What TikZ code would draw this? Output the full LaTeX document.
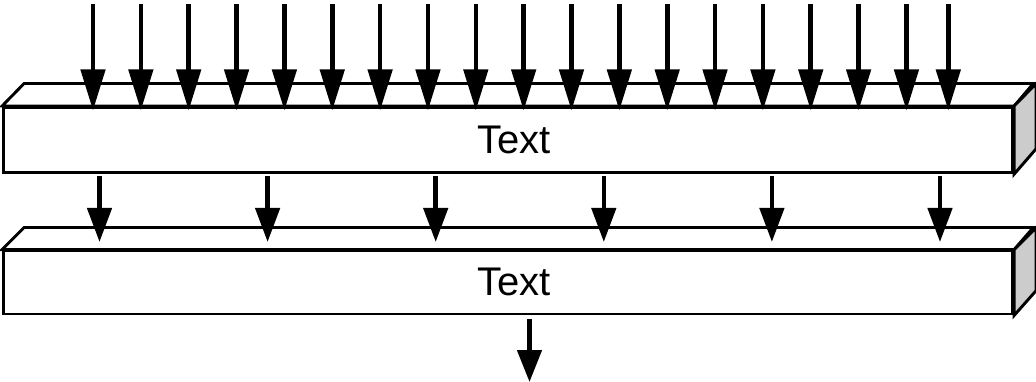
\documentclass[tikz,border=0pt]{standalone}
\usepackage{fontspec}
\setmainfont{Liberation Sans}
\usetikzlibrary{arrows.meta}
\tikzset{
  edge/.style={line width=2.9pt, line join=miter},
  frontface/.style={draw, edge, fill=white, rectangle, inner sep=0pt},
  topface/.style={edge, fill=white},
  sideface/.style={edge, fill=black!20},
  lbl/.style={font=\fontsize{40}{40}\selectfont, inner sep=0pt},
  inarrow/.style={line width=4.6pt, -{Triangle[length=41pt,width=24pt]}},
  midarrow/.style={line width=4.6pt, -{Triangle[length=34pt,width=24pt]}},
  outarrow/.style={line width=4.6pt, -{Triangle[length=32pt,width=24pt]}},
}
\begin{document}
\begin{tikzpicture}[x=1pt,y=-1pt]
\useasboundingbox (0,0) rectangle (1036,382);
% ---- top bar ----
\node[frontface, minimum width=1009.2pt, minimum height=65.2pt] (f1) at (508.1,140.1) {};
\draw[topface] (f1.north west) -- ++(22,-22.5) -- ++(1009.2,0) -- (f1.north east) -- cycle;
\draw[sideface] (f1.north east) -- ++(22,-22.5) -- ++(0,65.2) -- (f1.south east) -- cycle;
\node[lbl] (t1) at (514.3,140.1) {Text};
% ---- bottom bar ----
\node[frontface, minimum width=1009.2pt, minimum height=63pt] (f2) at (508.1,282.5) {};
\draw[topface] (f2.north west) -- ++(22,-22) -- ++(1009.2,0) -- (f2.north east) -- cycle;
\draw[sideface] (f2.north east) -- ++(22,-22) -- ++(0,63) -- (f2.south east) -- cycle;
\node[lbl] (t2) at (514.3,282) {Text};
% ---- input arrows ----
\foreach \i in {0,...,17} {
  \coordinate (s\i) at ({93+47.85*\i},4);
  \coordinate (e\i) at ({93+47.85*\i},110.5);
  \draw[inarrow] (s\i) -- (e\i);
}
\coordinate (s18) at (948.3,4);
\coordinate (e18) at (948.3,110.5);
\draw[inarrow] (s18) -- (e18);
% ---- middle arrows ----
\foreach \i in {0,...,5} {
  \coordinate (m\i) at ({99.5+168.1*\i},176);
  \coordinate (n\i) at ({99.5+168.1*\i},242);
  \draw[midarrow] (m\i) -- (n\i);
}
% ---- output arrow ----
\coordinate (o1) at (529.5,319);
\coordinate (o2) at (529.5,382);
\draw[outarrow] (o1) -- (o2);
\end{tikzpicture}
\end{document}
